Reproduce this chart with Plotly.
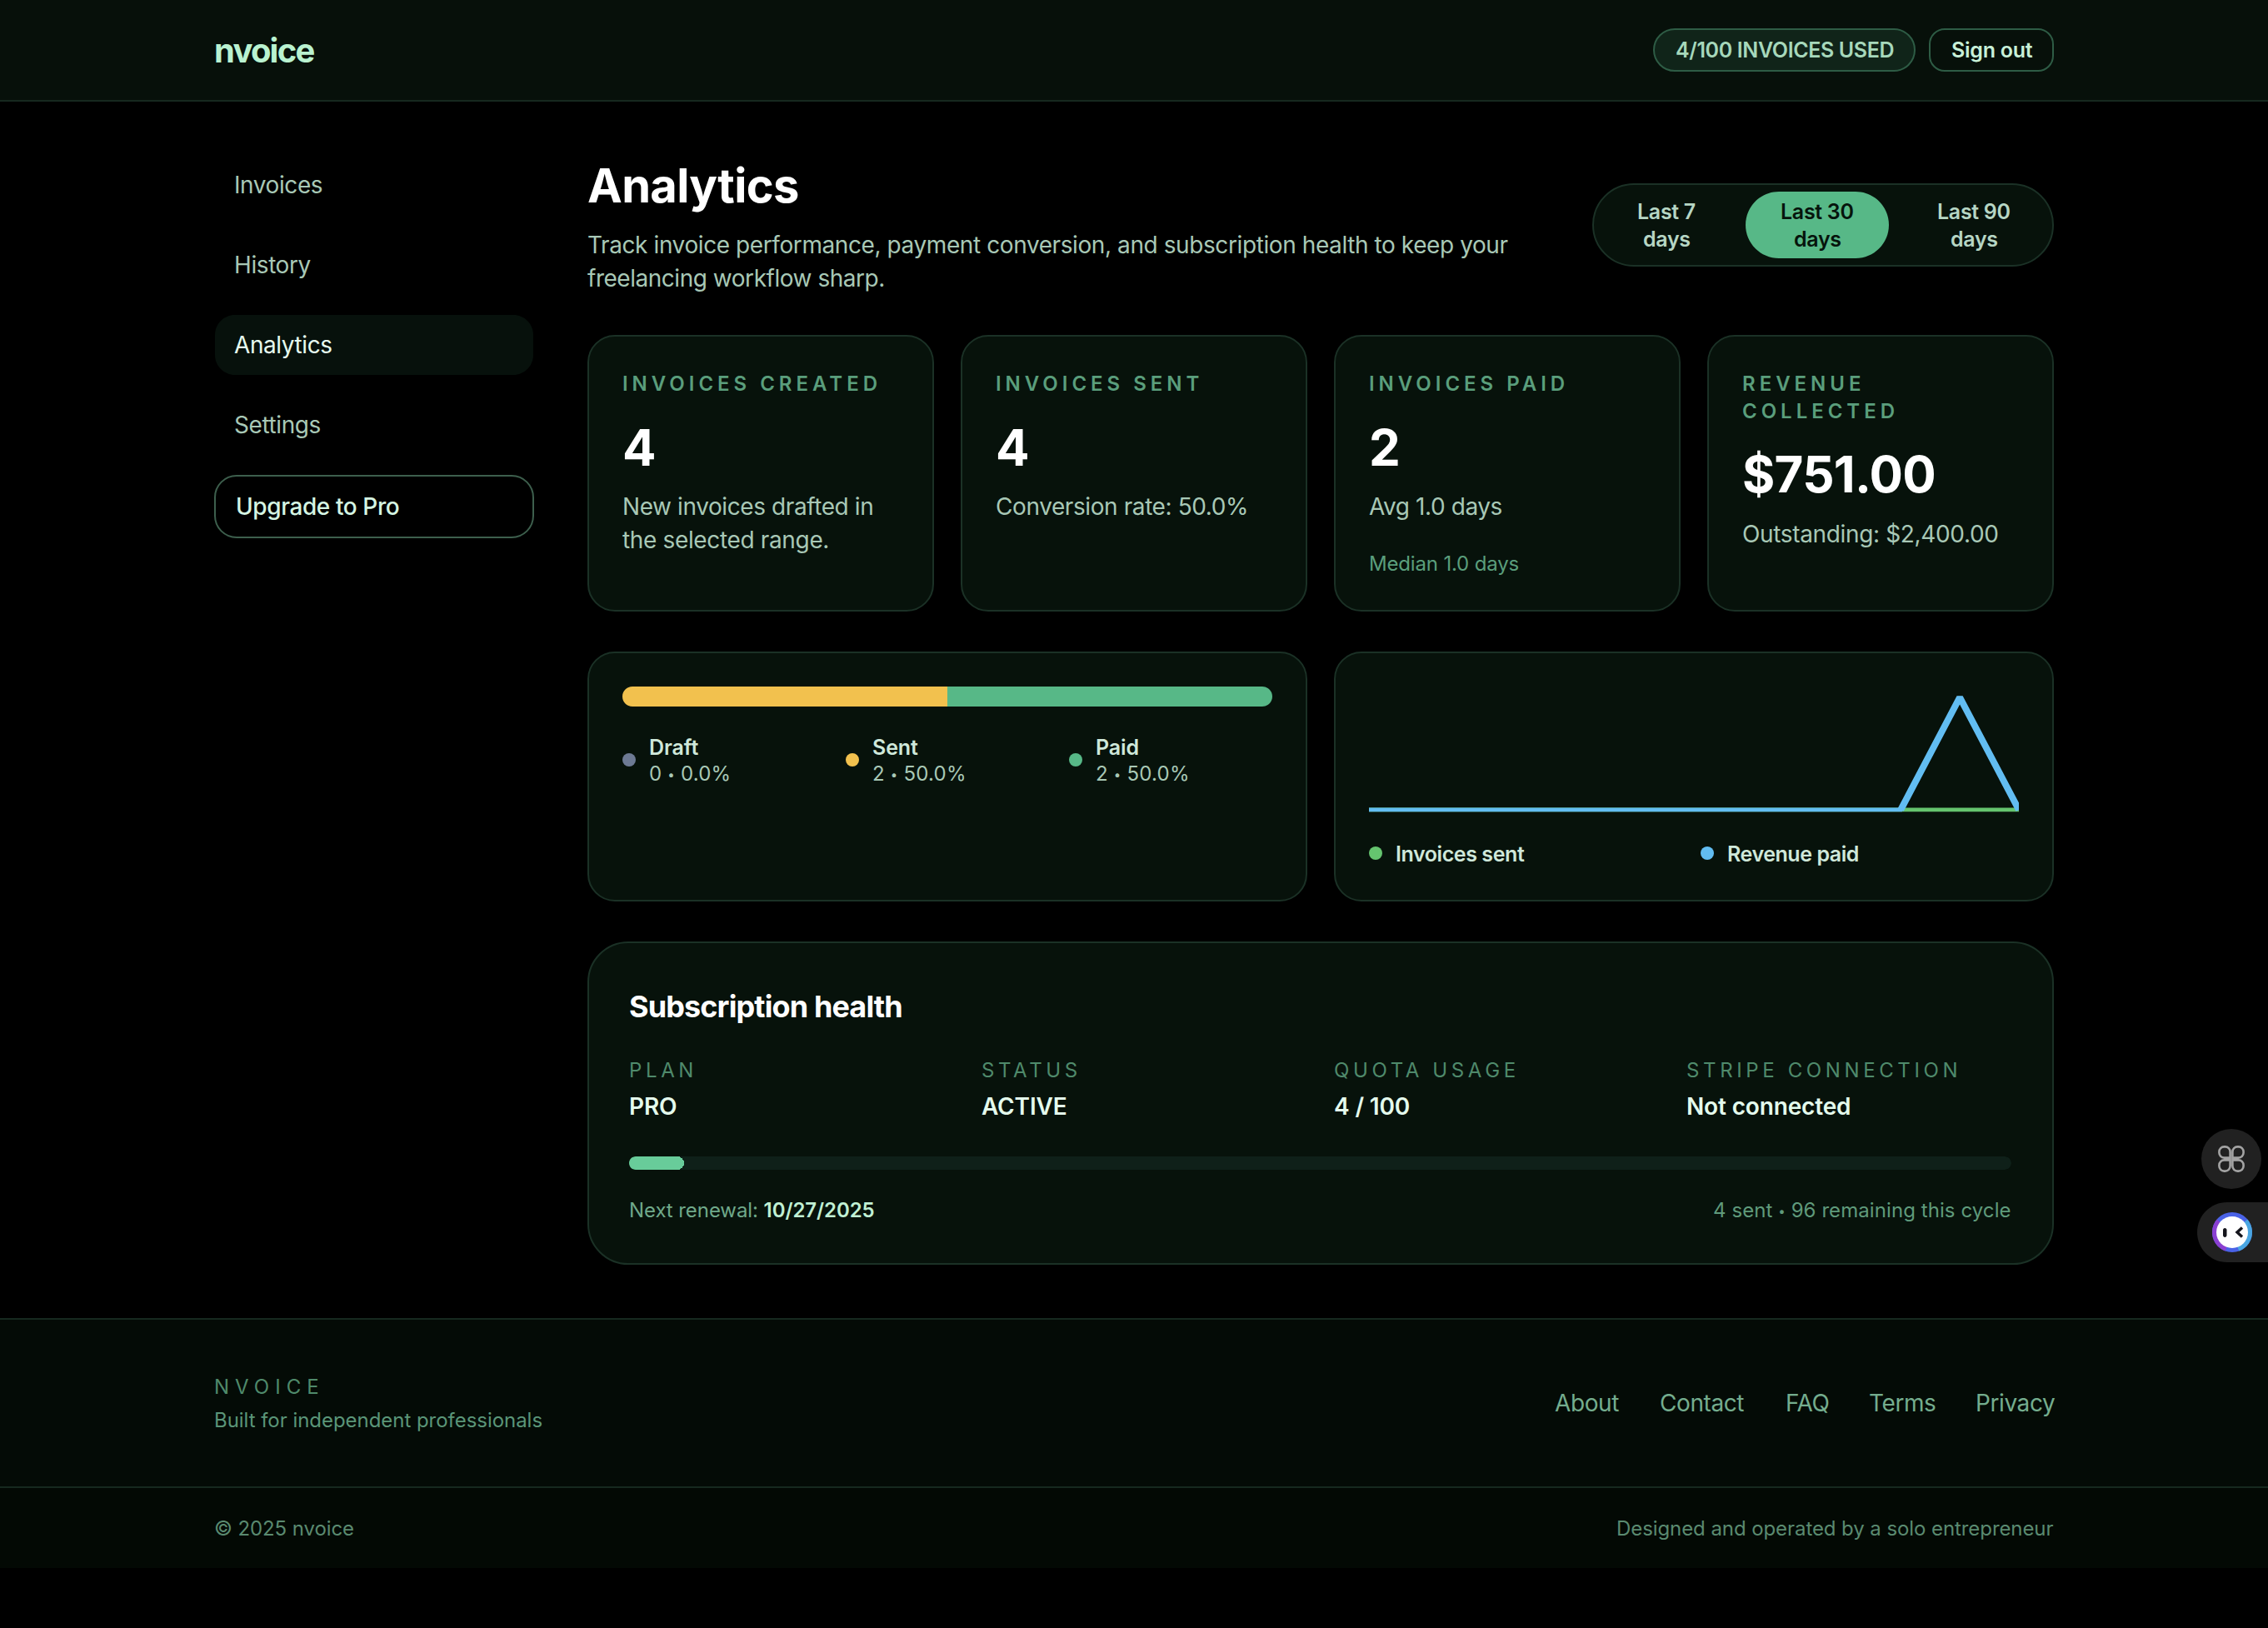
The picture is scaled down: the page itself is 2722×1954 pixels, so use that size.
import math
import plotly.graph_objects as go

W, H = 2722, 1954
# ---- data ----
status_labels = ["Draft", "Sent", "Paid"]
status_counts = [0, 2, 2]
status_shares = ["0 • 0.0%", "2 • 50.0%", "2 • 50.0%"]
trend_buckets = [0, 1, 2, 3, 4, 5, 6, 7, 8, 9, 10, 11]
invoices_sent = [0, 0, 0, 0, 0, 0, 0, 0, 0, 0, 0, 0]
revenue_paid = [0, 0, 0, 0, 0, 0, 0, 0, 0, 0, 751, 0]
quota_used = [4]
quota_limit = 100
nav_items = ["Invoices", "History", "Analytics", "Settings"]
range_first = ["Last 7", "Last 30", "Last 90"]
kpi_values = ["4", "4", "2", "$751.00"]
sub_labels = ["PLAN", "STATUS", "QUOTA USAGE", "STRIPE CONNECTION"]
sub_values = ["PRO", "ACTIVE", "4 / 100", "Not connected"]
footer_links = ["About", "Contact", "FAQ", "Terms", "Privacy"]

# ---- colours ----
CARD = "#07120b"; BORDER = "#1b3126"; HEADER = "#07100a"
C_DRAFT = "#6d7a94"; C_SENT = "#f2c14e"; C_PAID = "#57b887"
C_GREEN = "#65c46f"; C_BLUE = "#62bdf2"
MUTED = "#a8c8b6"; LABEL = "#5a9e7c"; FONT = "Inter"
BODY = 28; BODY_SP = -0.41

def fx(x): return x / W
def fy(y): return 1 - y / H

shapes, annos = [], []

def rrect_path(x0, y0, x1, y1, r):
    k = 0.5523 * r
    pts = [("M", x0 + r, y0), ("L", x1 - r, y0),
           ("C", x1 - r + k, y0, x1, y0 + r - k, x1, y0 + r), ("L", x1, y1 - r),
           ("C", x1, y1 - r + k, x1 - r + k, y1, x1 - r, y1), ("L", x0 + r, y1),
           ("C", x0 + r - k, y1, x0, y1 - r + k, x0, y1 - r), ("L", x0, y0 + r),
           ("C", x0, y0 + r - k, x0 + r - k, y0, x0 + r, y0)]
    s = ""
    for p in pts:
        s += p[0] + " " + " ".join(
            f"{fx(v):.6f}" if i % 2 == 0 else f"{fy(v):.6f}" for i, v in enumerate(p[1:])) + " "
    return s + "Z"

def rrect(x0, y0, x1, y1, r, fill, line=None, lw=2, layer="below"):
    shapes.append(dict(type="path", path=rrect_path(x0, y0, x1, y1, r), xref="paper", yref="paper",
                       fillcolor=fill, layer=layer,
                       line=dict(color=line or "rgba(0,0,0,0)", width=lw if line else 0)))

def rect(x0, y0, x1, y1, fill):
    shapes.append(dict(type="rect", x0=fx(x0), x1=fx(x1), y0=fy(y1), y1=fy(y0), xref="paper", yref="paper",
                       fillcolor=fill, line=dict(width=0), layer="below"))

def dot(x, y, r, fill, layer="below"):
    shapes.append(dict(type="circle", x0=fx(x - r), x1=fx(x + r), y0=fy(y + r), y1=fy(y - r), xref="paper",
                       yref="paper", fillcolor=fill, line=dict(width=0), layer=layer))

def corner_masks(x0, y0, x1, y1, r, color):
    k = r * (1 - 0.5523)
    def P(x, y): return f"{fx(x):.6f} {fy(y):.6f}"
    for cx, cy, sx, sy in ((x0, y0, 1, 1), (x1, y0, -1, 1), (x0, y1, 1, -1), (x1, y1, -1, -1)):
        d = (f"M {P(cx, cy)} L {P(cx + sx * r, cy)} "
             f"C {P(cx + sx * k, cy)} {P(cx, cy + sy * k)} {P(cx, cy + sy * r)} Z")
        shapes.append(dict(type="path", path=d, xref="paper", yref="paper", fillcolor=color,
                           line=dict(width=0), layer="above"))

def T(x, y, text, size, color, weight=400, anchor="left", spacing=None):
    if spacing is not None:
        text = f'<span style="letter-spacing:{spacing}px">{text}</span>'
    annos.append(dict(x=fx(x), y=fy(y), xref="paper", yref="paper", text=text, showarrow=False,
                      xanchor=anchor, yanchor="middle", align=anchor, borderpad=0, borderwidth=0,
                      font=dict(family=FONT, size=size, color=color, weight=weight)))

def small_bullet(text, size=15, shift=2):
    return text.replace("•", f'<span style="font-size:{size}px;baseline-shift:{shift}px">•</span>')

# ---- header ----
rect(0, 0, W, 120, HEADER)
rect(0, 120, W, 122, "#16291f")
T(257, 60.5, "nvoice", 40, "#b9f2d0", 700, spacing=-1.8)
rrect(1985, 35, 2298, 85, 25, "#102419", "#2e5c45")
T(2142, 60.5, "4/100 INVOICES USED", 25, "#a6d8bb", 600, "center", spacing=-0.37)
rrect(2316, 35, 2464, 85, 18, HEADER, "#2e5c45")
T(2390.5, 60.5, "Sign out", 25, "#c8f0d8", 600, "center", spacing=-0.25)

# ---- sidebar ----
rrect(258, 378, 640, 450, 24, "#07110c")
for label, yy, col in zip(nav_items, (222, 318, 414, 510.5), (MUTED, MUTED, "#e6fbef", MUTED)):
    T(281, yy, label, BODY, col, spacing=BODY_SP)
rrect(258, 571, 640, 645, 26, "#000000", "#3d5f4d")
T(283, 608, "Upgrade to Pro", BODY, "#d5f5e3", 500, spacing=BODY_SP)

# ---- title ----
T(705, 223, "Analytics", 56, "#ffffff", 660, spacing=-0.65)
T(705, 293.5, "Track invoice performance, payment conversion, and subscription health to keep your", BODY, MUTED, spacing=BODY_SP)
T(705, 334, "freelancing workflow sharp.", BODY, MUTED, spacing=-0.47)

# ---- range switch ----
rrect(1912, 221, 2464, 319, 49, CARD, BORDER)
rrect(2095, 230, 2267, 310, 40, C_PAID)
for label, cx, col in zip(range_first, (2000, 2181, 2369), ("#b6d6c4", "#06140c", "#b6d6c4")):
    T(cx, 254, label, 25, col, 600, "center", spacing=-0.3)
    T(cx, 286.5, "days", 25, col, 600, "center", spacing=-0.3)

# ---- KPI cards ----
card_x = [(706, 1120), (1154, 1568), (1602, 2016), (2050, 2464)]
for a, b in card_x:
    rrect(a, 403, b, 733, 32, CARD, BORDER)
SP = 4.98
T(747, 460.5, "INVOICES CREATED", 24, LABEL, 600, spacing=SP)
T(1195, 460.5, "INVOICES SENT", 24, LABEL, 600, spacing=SP)
T(1643, 460.5, "INVOICES PAID", 24, LABEL, 600, spacing=SP)
T(2091, 460.5, "REVENUE", 24, LABEL, 600, spacing=SP)
T(2091, 494, "COLLECTED", 24, LABEL, 600, spacing=SP)
T(747, 536.5, kpi_values[0], 60, "#ffffff", 700)
T(1195, 536.5, kpi_values[1], 60, "#ffffff", 700)
T(1643, 536.5, kpi_values[2], 60, "#ffffff", 700)
T(2091, 568.5, kpi_values[3], 60, "#ffffff", 700, spacing=-0.7)
T(747, 607.5, "New invoices drafted in", BODY, MUTED, spacing=BODY_SP)
T(747, 647.5, "the selected range.", BODY, MUTED, spacing=-0.35)
T(1195, 607.5, "Conversion rate: 50.0%", BODY, MUTED, spacing=BODY_SP)
T(1643, 607.5, "Avg 1.0 days", BODY, MUTED, spacing=BODY_SP)
T(1643, 676.5, "Median 1.0 days", 24, LABEL, spacing=-0.17)
T(2091, 640.5, "Outstanding: $2,400.00", BODY, MUTED, spacing=-0.35)

# ---- chart cards ----
rrect(706, 783, 1568, 1081, 32, CARD, BORDER)
rrect(1602, 783, 2464, 1081, 32, CARD, BORDER)
for label, share, col, dx, tx in zip(status_labels, status_shares, (C_DRAFT, C_SENT, C_PAID),
                                     (755, 1023, 1291), (779.5, 1047, 1315)):
    dot(dx, 912, 8, col)
    T(tx, 897, label, 25, "#cfe8da", 600, spacing=-0.12)
    T(tx, 928.5, small_bullet(share), 24, MUTED, spacing=0.22)
dot(1651, 1024, 8, C_GREEN)
T(1675, 1025, "Invoices sent", 25, "#cfe8da", 600, spacing=-0.42)
dot(2049, 1024, 8, C_BLUE)
T(2073, 1025, "Revenue paid", 25, "#cfe8da", 600, spacing=-0.45)

# ---- subscription card ----
rrect(706, 1131, 2464, 1517, 48, CARD, BORDER)
T(755, 1208, "Subscription health", 36, "#ffffff", 660, spacing=-0.88)
for label, value, xx in zip(sub_labels, sub_values, (755, 1178, 1601.5, 2024)):
    T(xx, 1284, label, 24, "#4f8a6b", 400, spacing=4.62)
    T(xx, 1328, value, 28, "#e4fbed", 600, spacing=-0.15)
rrect(755, 1388, 2414, 1404, 8, "#0f2019")
T(755, 1452, 'Next renewal: <span style="font-weight:600;color:#c0f0d4">10/27/2025</span>', 24, "#6fa98a", spacing=-0.08)
T(2414, 1452, small_bullet("4 sent • 96 remaining this cycle"), 24, "#5f9a7b", 400, "right", spacing=0.08)

# ---- footer ----
rect(0, 1583, W, 1785, "#040b06")
rect(0, 1785, W, 1882, "#030904")
rect(0, 1582, W, 1584, "#16291f")
rect(0, 1784, W, 1786, "#16291f")
T(256.5, 1664.5, "NVOICE", 24, "#4f8a6b", 400, spacing=7)
T(256.5, 1704, "Built for independent professionals", 24, "#5a9578", spacing=-0.04)
for label, xx in zip(footer_links, (1866, 1991.5, 2142.5, 2243, 2371)):
    T(xx, 1684, label, BODY, "#74ad8e", spacing=BODY_SP)
T(256.5, 1834, "© 2025 nvoice", 24, "#5a8a70", spacing=-0.1)
T(2464, 1834, "Designed and operated by a solo entrepreneur", 24, "#5a8a70", 400, "right", spacing=-0.08)

# ---- floating widgets ----
dot(2678, 1391, 36, "#212121", "above")
cx, cy = 2678, 1391
s_gap, s = 1.4, 13.2
r_p = 6
def petal(x0, y0, sx, sy):
    x1, y1 = x0 + sx * s, y0 + sy * s
    k = r_p * 0.4477
    def P(x, y): return f"{fx(x):.6f} {fy(y):.6f}"
    d = (f"M {P(x0, y0)} L {P(x1 - sx * r_p, y0)} "
         f"C {P(x1 - sx * k, y0)} {P(x1, y0 + sy * k)} {P(x1, y0 + sy * r_p)} "
         f"L {P(x1, y1 - sy * r_p)} C {P(x1, y1 - sy * k)} {P(x1 - sx * k, y1)} {P(x1 - sx * r_p, y1)} "
         f"L {P(x0 + sx * r_p, y1)} C {P(x0 + sx * k, y1)} {P(x0, y1 - sy * k)} {P(x0, y1 - sy * r_p)} Z")
    shapes.append(dict(type="path", path=d, xref="paper", yref="paper", layer="above",
                       fillcolor="rgba(0,0,0,0)", line=dict(color="#a3a3a3", width=2.6)))
for sx in (-1, 1):
    for sy in (-1, 1):
        petal(cx + sx * s_gap, cy + sy * s_gap, sx, sy)

rrect(2637, 1443, 2760, 1515, 36, "#212121", None, layer="above")
lx, ly = 2679, 1479
dot(lx, ly, 24, "#4a62e6", "above")
def wedge(a, b, color):
    r, n = 24, 12
    pts = [(lx + r * math.cos(math.radians(a + (b - a) * i / n)),
            ly + r * math.sin(math.radians(a + (b - a) * i / n))) for i in range(n + 1)]
    d = f"M {fx(lx):.6f} {fy(ly):.6f} " + " ".join(f"L {fx(p[0]):.6f} {fy(p[1]):.6f}" for p in pts) + " Z"
    shapes.append(dict(type="path", path=d, xref="paper", yref="paper", layer="above",
                       fillcolor=color, line=dict(width=0)))
wedge(110, 220, "#8a3fd1")
wedge(-40, 70, "#4aa6e2")
dot(lx, ly, 19, "#ffffff", "above")
rrect(2668, 1474, 2672.5, 1485, 2.2, "#15151c", None, layer="above")
d_chev = (f"M {fx(2691):.6f} {fy(1473.5):.6f} L {fx(2685):.6f} {fy(1479):.6f} L {fx(2691):.6f} {fy(1484.5):.6f}")
shapes.append(dict(type="path", path=d_chev, xref="paper", yref="paper", layer="above",
                   fillcolor="rgba(0,0,0,0)", line=dict(color="#15151c", width=3.4)))

# ---- rounded ends of the two bars ----
corner_masks(747, 824, 1527, 848, 12, CARD)
corner_masks(755, 1388, 2414, 1404, 8, CARD)

# ---- traces drawn through their axes ----
fig = go.Figure()
for name, value, col in zip(status_labels, status_counts, (C_DRAFT, C_SENT, C_PAID)):
    fig.add_trace(go.Bar(y=["status"], x=[value], name=name, orientation="h", width=1,
                         marker=dict(color=col, line=dict(width=0)), xaxis="x", yaxis="y"))
fig.add_trace(go.Scatter(x=trend_buckets, y=invoices_sent, name="Invoices sent", mode="lines",
                         line=dict(color=C_GREEN, width=5), xaxis="x2", yaxis="y2"))
fig.add_trace(go.Scatter(x=trend_buckets, y=revenue_paid, name="Revenue paid", mode="lines",
                         line=dict(color=C_BLUE, width=5), xaxis="x2", yaxis="y2"))
# the reference's stretched stroke is wider on the steep segments
fig.add_trace(go.Scatter(x=trend_buckets[9:], y=revenue_paid[9:], name="Revenue paid", mode="lines",
                         line=dict(color=C_BLUE, width=8), xaxis="x2", yaxis="y2"))
fig.add_trace(go.Bar(y=["quota"], x=quota_used, name="Quota used", orientation="h", width=1,
                     marker=dict(color="#68cc9a", line=dict(width=0), cornerradius=8),
                     xaxis="x3", yaxis="y3"))

# chart scale: base line at 972 px, peak at 837 px, plot box 825-974.5 px
top_px, bot_px, base_px, peak_px = 825, 974.5, 972, 837
per_px = max(revenue_paid) / (base_px - peak_px)
y2_range = [-(bot_px - base_px) * per_px, max(revenue_paid) + (peak_px - top_px) * per_px]

hidden = dict(visible=False, showgrid=False, zeroline=False, fixedrange=True)
fig.update_layout(
    width=W, height=H, margin=dict(l=0, r=0, t=0, b=0, pad=0), autosize=False,
    paper_bgcolor="#000000", plot_bgcolor="rgba(0,0,0,0)", showlegend=False, hovermode=False,
    barmode="stack", bargap=0, shapes=shapes, annotations=annos,
    xaxis=dict(hidden, domain=[fx(747), fx(1527)], range=[0, sum(status_counts)], anchor="y"),
    yaxis=dict(hidden, domain=[fy(848), fy(824)], range=[-0.5, 0.5], anchor="x"),
    xaxis2=dict(hidden, domain=[fx(1643), fx(2423)], range=[trend_buckets[0], trend_buckets[-1]], anchor="y2"),
    yaxis2=dict(hidden, domain=[fy(bot_px), fy(top_px)], range=y2_range, anchor="x2"),
    xaxis3=dict(hidden, domain=[fx(755), fx(2414)], range=[0, quota_limit], anchor="y3"),
    yaxis3=dict(hidden, domain=[fy(1404), fy(1388)], range=[-0.5, 0.5], anchor="x3"),
)
fig.write_html("out.html", config=dict(displayModeBar=False),
               post_script="document.body.style.margin='0';document.body.style.background='#000';"
                           "document.documentElement.style.overflow='hidden';")
